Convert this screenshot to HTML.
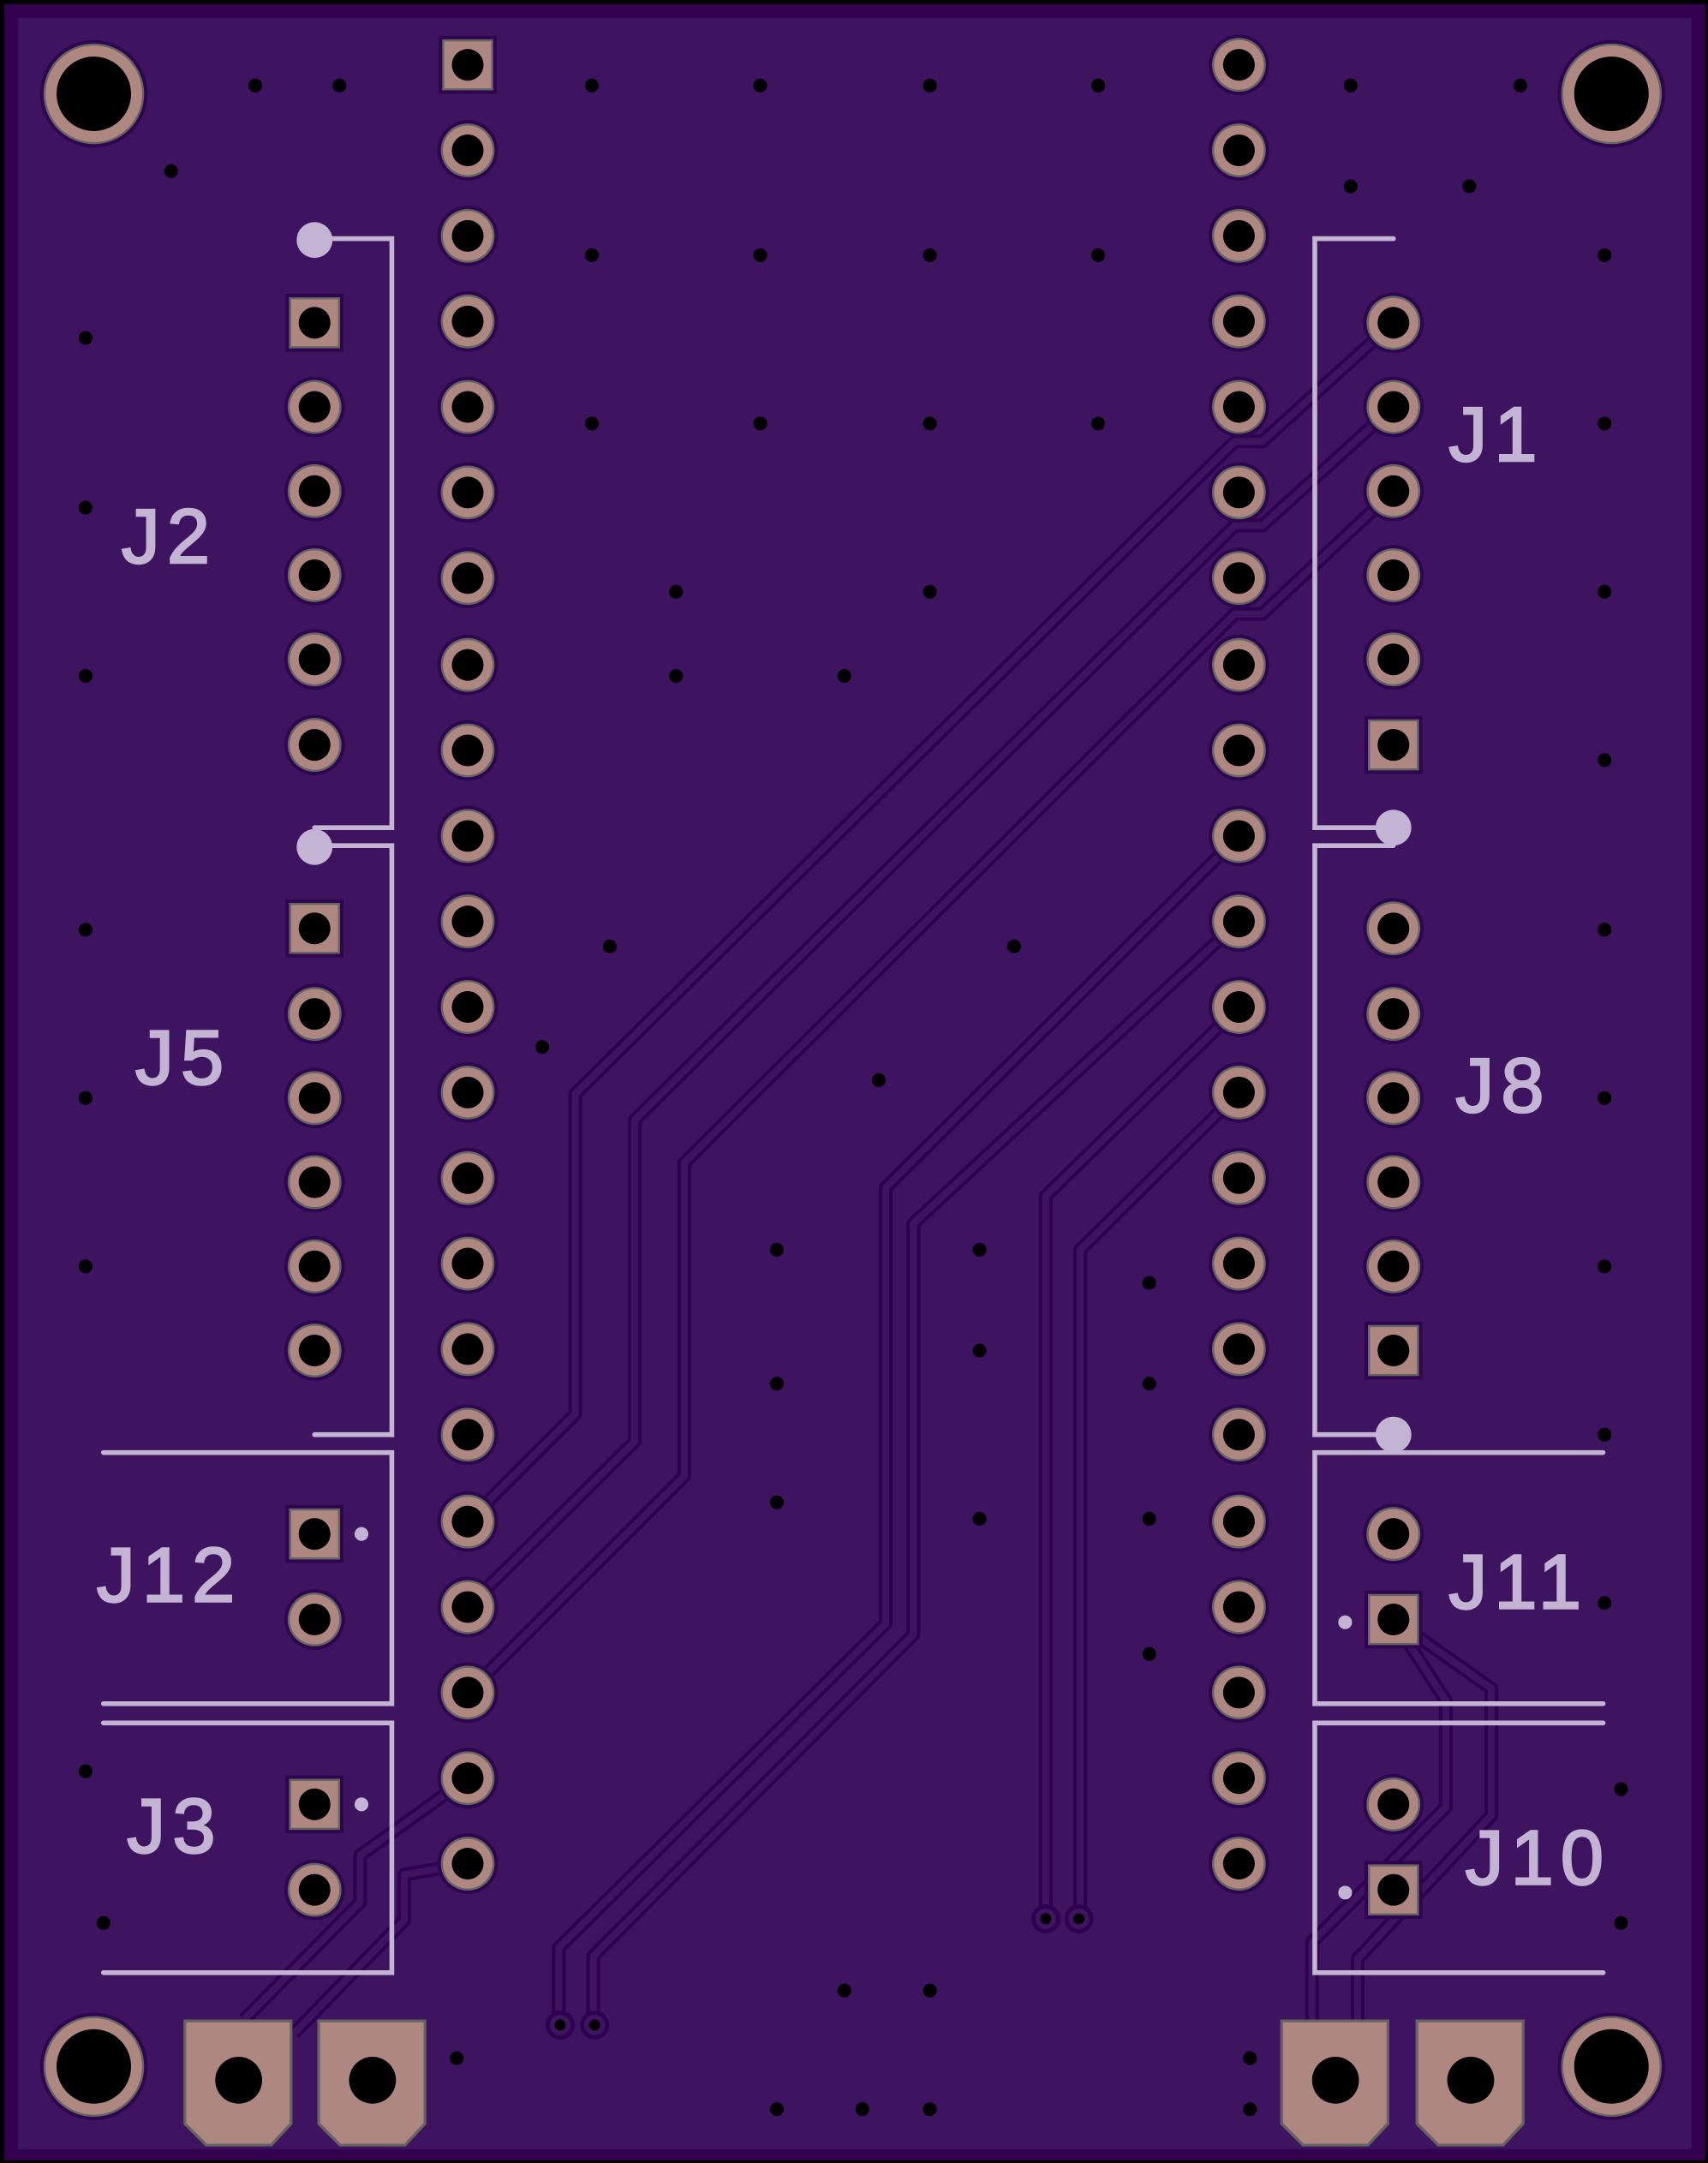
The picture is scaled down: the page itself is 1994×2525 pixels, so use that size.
<!DOCTYPE html>
<html><head><meta charset="utf-8"><style>html,body{margin:0;padding:0;background:#000}svg{display:block}</style></head>
<body>
<svg width="1994" height="2525" viewBox="0 0 1238 1568" preserveAspectRatio="none" xmlns="http://www.w3.org/2000/svg">
<defs>
<g id="rp"><circle r="22" fill="#2e0650"/><circle r="19.5" fill="#646460"/><circle r="18" fill="#ae8880"/><circle r="11.5" fill="#000"/></g>
<g id="sp"><rect x="-21" y="-21" width="42" height="42" fill="#2e0650"/><rect x="-18.5" y="-18.5" width="37" height="37" fill="#646460"/><rect x="-17" y="-17" width="34" height="34" fill="#ae8880"/><circle r="11.5" fill="#000"/></g>
<g id="mh"><circle r="39" fill="#2e0650"/><circle r="36.5" fill="#646460"/><circle r="35" fill="#ae8880"/><circle r="27" fill="#000"/></g>
<g id="bp"><path d="M-40,-44 H39 V32 L24,48 H-24 L-40,32 Z" fill="#646460"/><path d="M-38,-42 H37 V31 L23,46 H-23 L-38,31 Z" fill="#ae8880"/><circle r="17" fill="#000"/></g>
</defs>
<rect width="1238" height="1568" fill="#000"/>
<rect x="3" y="3" width="1233" height="1563" fill="#33004f"/>
<rect x="13" y="13" width="1213" height="1545" fill="#3e1460"/>

<!-- traces -->
<g fill="none" stroke-linejoin="round">
<g stroke="#2e0050" stroke-width="10">
<path d="M1010,234 L915,320 L895,320 L417,793 L417,1025 L339,1103"/>
<path d="M1010,295 L915,381 L895,381 L460,812 L460,1045 L339,1165"/>
<path d="M1010,356 L915,445 L895,445 L496,843 L496,1070 L339,1227"/>
<path d="M898,606 L642,861 L642,1177 L405,1412 L405,1466"/>
<path d="M898,668 L662,887 L662,1185 L430,1418 L430,1466"/>
<path d="M898,730 L758,867 L758,1390"/>
<path d="M898,792 L783,906 L783,1390"/>
<path d="M1010,1174 L1081,1224 L1081,1316 L984,1420 L984,1465"/>
<path d="M1010,1174 L1048,1233 L1048,1310 L951,1408 L951,1465"/>
<path d="M339,1289 L261,1345 L261,1379 L177,1464"/>
<path d="M339,1351 L293,1359 L293,1392 L213,1474"/>
</g>
<g stroke="#3e1460" stroke-width="5">
<path d="M1010,234 L915,320 L895,320 L417,793 L417,1025 L339,1103"/>
<path d="M1010,295 L915,381 L895,381 L460,812 L460,1045 L339,1165"/>
<path d="M1010,356 L915,445 L895,445 L496,843 L496,1070 L339,1227"/>
<path d="M898,606 L642,861 L642,1177 L405,1412 L405,1466"/>
<path d="M898,668 L662,887 L662,1185 L430,1418 L430,1466"/>
<path d="M898,730 L758,867 L758,1390"/>
<path d="M898,792 L783,906 L783,1390"/>
<path d="M1010,1174 L1081,1224 L1081,1316 L984,1420 L984,1465"/>
<path d="M1010,1174 L1048,1233 L1048,1310 L951,1408 L951,1465"/>
<path d="M339,1289 L261,1345 L261,1379 L177,1464"/>
<path d="M339,1351 L293,1359 L293,1392 L213,1474"/>
</g>
</g>
<g fill="#3e1460" stroke="#2e0050" stroke-width="3">
<circle cx="406" cy="1468" r="9"/><circle cx="431" cy="1468" r="9"/><circle cx="758" cy="1391" r="9"/><circle cx="782" cy="1391" r="9"/>
</g>
<g fill="#000"><circle cx="406" cy="1468" r="4"/><circle cx="431" cy="1468" r="4"/><circle cx="758" cy="1391" r="4"/><circle cx="782" cy="1391" r="4"/></g>

<!-- vias -->
<g fill="#000">
<circle cx="185" cy="62" r="5"/><circle cx="246" cy="62" r="5"/><circle cx="429" cy="62" r="5"/><circle cx="551" cy="62" r="5"/><circle cx="674" cy="62" r="5"/><circle cx="796" cy="62" r="5"/><circle cx="979" cy="62" r="5"/><circle cx="1102" cy="62" r="5"/>
<circle cx="124" cy="124" r="5"/><circle cx="979" cy="135" r="5"/><circle cx="1065" cy="135" r="5"/>
<circle cx="429" cy="185" r="5"/><circle cx="551" cy="185" r="5"/><circle cx="674" cy="185" r="5"/><circle cx="796" cy="185" r="5"/><circle cx="1163" cy="185" r="5"/>
<circle cx="62" cy="245" r="5"/><circle cx="429" cy="307" r="5"/><circle cx="551" cy="307" r="5"/><circle cx="674" cy="307" r="5"/><circle cx="796" cy="307" r="5"/><circle cx="1163" cy="307" r="5"/>
<circle cx="62" cy="368" r="5"/><circle cx="490" cy="429" r="5"/><circle cx="674" cy="429" r="5"/><circle cx="1163" cy="429" r="5"/>
<circle cx="62" cy="490" r="5"/><circle cx="490" cy="490" r="5"/><circle cx="612" cy="490" r="5"/><circle cx="1163" cy="551" r="5"/>
<circle cx="62" cy="674" r="5"/><circle cx="442" cy="686" r="5"/><circle cx="735" cy="686" r="5"/><circle cx="1163" cy="674" r="5"/>
<circle cx="393" cy="759" r="5"/><circle cx="637" cy="783" r="5"/><circle cx="62" cy="796" r="5"/><circle cx="1163" cy="796" r="5"/>
<circle cx="563" cy="906" r="5"/><circle cx="710" cy="906" r="5"/><circle cx="833" cy="930" r="5"/><circle cx="62" cy="918" r="5"/><circle cx="1163" cy="918" r="5"/>
<circle cx="563" cy="1003" r="5"/><circle cx="710" cy="979" r="5"/><circle cx="833" cy="1003" r="5"/>
<circle cx="563" cy="1089" r="5"/><circle cx="710" cy="1101" r="5"/><circle cx="833" cy="1101" r="5"/><circle cx="1163" cy="1040" r="5"/>
<circle cx="833" cy="1199" r="5"/><circle cx="1163" cy="1162" r="5"/>
<circle cx="62" cy="1284" r="5"/><circle cx="1175" cy="1297" r="5"/><circle cx="75" cy="1394" r="5"/><circle cx="1175" cy="1394" r="5"/>
<circle cx="612" cy="1443" r="5"/><circle cx="674" cy="1443" r="5"/><circle cx="331" cy="1492" r="5"/><circle cx="906" cy="1492" r="5"/>
<circle cx="563" cy="1529" r="5"/><circle cx="625" cy="1529" r="5"/><circle cx="674" cy="1529" r="5"/><circle cx="906" cy="1529" r="5"/>
</g>

<!-- mount holes -->
<use href="#mh" x="68" y="68"/><use href="#mh" x="1168" y="68"/><use href="#mh" x="68" y="1498"/><use href="#mh" x="1168" y="1498"/>

<!-- headers -->
<use href="#sp" x="339" y="47"/>
<use href="#rp" x="339" y="109"/><use href="#rp" x="339" y="171"/><use href="#rp" x="339" y="233"/><use href="#rp" x="339" y="295"/><use href="#rp" x="339" y="357"/><use href="#rp" x="339" y="419"/><use href="#rp" x="339" y="482"/><use href="#rp" x="339" y="544"/><use href="#rp" x="339" y="606"/><use href="#rp" x="339" y="668"/><use href="#rp" x="339" y="730"/><use href="#rp" x="339" y="792"/><use href="#rp" x="339" y="854"/><use href="#rp" x="339" y="916"/><use href="#rp" x="339" y="978"/><use href="#rp" x="339" y="1040"/><use href="#rp" x="339" y="1103"/><use href="#rp" x="339" y="1165"/><use href="#rp" x="339" y="1227"/><use href="#rp" x="339" y="1289"/><use href="#rp" x="339" y="1351"/>
<use href="#rp" x="898" y="47"/><use href="#rp" x="898" y="109"/><use href="#rp" x="898" y="171"/><use href="#rp" x="898" y="233"/><use href="#rp" x="898" y="295"/><use href="#rp" x="898" y="357"/><use href="#rp" x="898" y="419"/><use href="#rp" x="898" y="482"/><use href="#rp" x="898" y="544"/><use href="#rp" x="898" y="606"/><use href="#rp" x="898" y="668"/><use href="#rp" x="898" y="730"/><use href="#rp" x="898" y="792"/><use href="#rp" x="898" y="854"/><use href="#rp" x="898" y="916"/><use href="#rp" x="898" y="978"/><use href="#rp" x="898" y="1040"/><use href="#rp" x="898" y="1103"/><use href="#rp" x="898" y="1165"/><use href="#rp" x="898" y="1227"/><use href="#rp" x="898" y="1289"/><use href="#rp" x="898" y="1351"/>

<!-- J2/J5 -->
<use href="#sp" x="228" y="234"/><use href="#rp" x="228" y="295"/><use href="#rp" x="228" y="356"/><use href="#rp" x="228" y="417"/><use href="#rp" x="228" y="478"/><use href="#rp" x="228" y="540"/>
<use href="#sp" x="228" y="673"/><use href="#rp" x="228" y="735"/><use href="#rp" x="228" y="796"/><use href="#rp" x="228" y="857"/><use href="#rp" x="228" y="918"/><use href="#rp" x="228" y="979"/>
<!-- J1/J8 -->
<use href="#rp" x="1010" y="234"/><use href="#rp" x="1010" y="295"/><use href="#rp" x="1010" y="356"/><use href="#rp" x="1010" y="417"/><use href="#rp" x="1010" y="478"/><use href="#sp" x="1010" y="540"/>
<use href="#rp" x="1010" y="673"/><use href="#rp" x="1010" y="735"/><use href="#rp" x="1010" y="796"/><use href="#rp" x="1010" y="857"/><use href="#rp" x="1010" y="918"/><use href="#sp" x="1010" y="979"/>
<!-- small connectors -->
<use href="#sp" x="228" y="1112"/><use href="#rp" x="228" y="1174"/>
<use href="#sp" x="228" y="1308"/><use href="#rp" x="228" y="1370"/>
<use href="#rp" x="1010" y="1112"/><use href="#sp" x="1010" y="1174"/>
<use href="#rp" x="1010" y="1308"/><use href="#sp" x="1010" y="1370"/>
<!-- bottom pads -->
<use href="#bp" x="173" y="1508"/><use href="#bp" x="270" y="1508"/><use href="#bp" x="968" y="1508"/><use href="#bp" x="1066" y="1508"/>

<!-- silkscreen -->
<g fill="none" stroke="#c4b4d4" stroke-width="3.5" stroke-linecap="round" stroke-linejoin="miter">
<path d="M228,173 H284 V600 H228"/>
<path d="M228,613 H284 V1040 H228"/>
<path d="M75,1053 H284 V1235 H75"/>
<path d="M75,1249 H284 V1430 H75"/>
<path d="M1010,173 H953 V600 H1010"/>
<path d="M1010,613 H953 V1040 H1010"/>
<path d="M1162,1053 H953 V1235 H1162"/>
<path d="M1162,1249 H953 V1430 H1162"/>
</g>
<g fill="#c4b4d4">
<circle cx="228" cy="174" r="13"/><circle cx="228" cy="614" r="13"/><circle cx="1010" cy="600" r="13"/><circle cx="1010" cy="1040" r="13"/>
<circle cx="262" cy="1112" r="5"/><circle cx="262" cy="1308" r="5"/><circle cx="975" cy="1176" r="5"/><circle cx="975" cy="1372" r="5"/>
</g>
<g fill="#c4b4d4" stroke="#c4b4d4" stroke-width="1.5" font-family="'Liberation Sans', sans-serif" font-size="56" letter-spacing="5">
<text x="88" y="408">J2</text>
<text x="98" y="786">J5</text>
<text x="70" y="1161">J12</text>
<text x="92" y="1343">J3</text>
<text x="1050" y="334">J1</text>
<text x="1055" y="806">J8</text>
<text x="1050" y="1166">J11</text>
<text x="1062" y="1366">J10</text>
</g>
</svg>
</body></html>
